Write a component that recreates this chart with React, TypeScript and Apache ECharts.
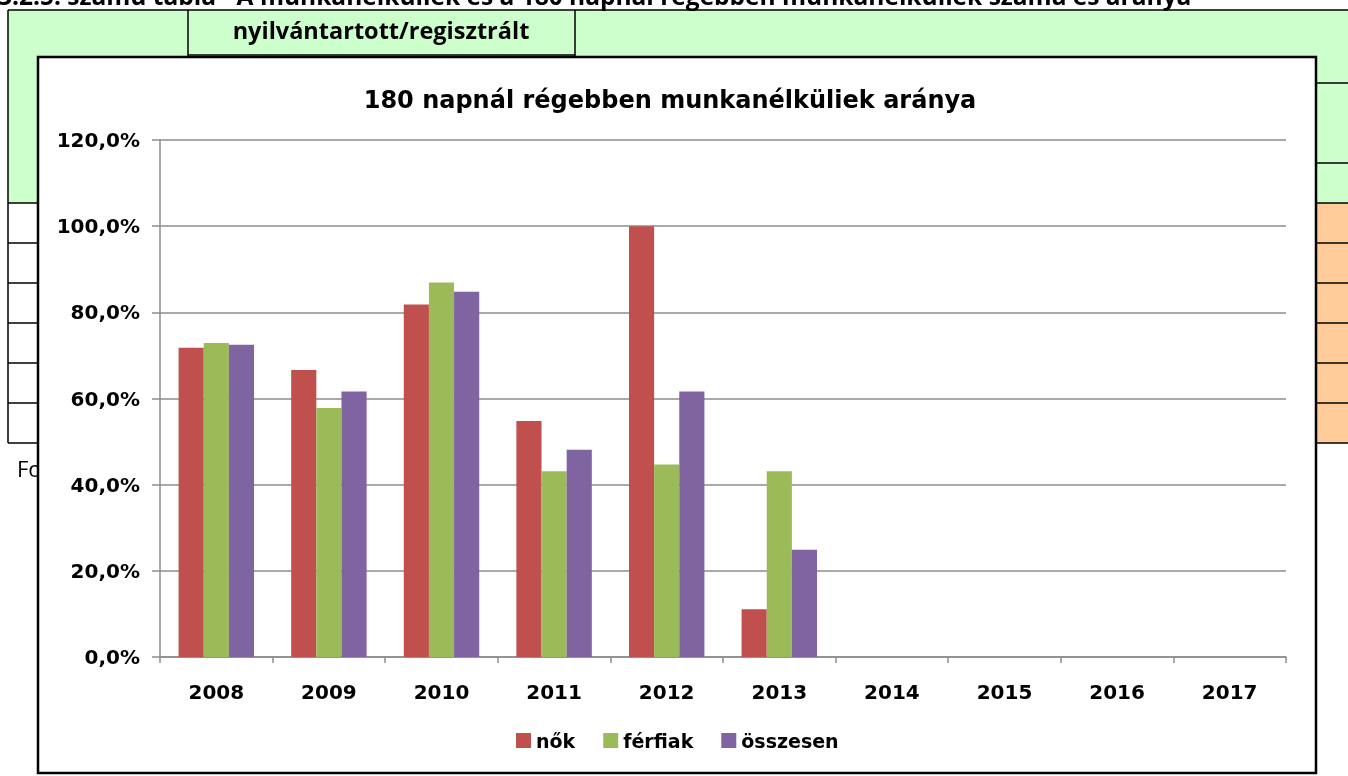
import React, { useEffect, useRef } from "react";
import * as echarts from "echarts";

const years = ["2008", "2009", "2010", "2011", "2012", "2013", "2014", "2015", "2016", "2017"];
const nok = [71.8, 66.6, 81.8, 54.8, 100.0, 11.1, null, null, null, null];
const ferfiak = [72.9, 57.8, 86.9, 43.1, 44.7, 43.1, null, null, null, null];
const osszesen = [72.5, 61.6, 84.8, 48.1, 61.6, 24.9, null, null, null, null];
const seriesNames = ["nők", "férfiak", "összesen"];
const seriesColors = ["#C0504D", "#9BBB59", "#8064A2"];
const chartTitle = "180 napnál régebben munkanélküliek aránya";
const sheetTitle = "3.2.5. számú tábla - A munkanélküliek és a 180 napnál régebben munkanélküliek száma és aránya";
const headerText = "nyilvántartott/regisztrált";
const sourceText = "Fo";
const rowLines = [203, 243, 283, 323, 363, 403, 443];

const FONT = "DejaVu Sans";

export default function App() {
  const ref = useRef<HTMLDivElement>(null);
  useEffect(() => {
    if (!ref.current) return;
    const chart = echarts.init(ref.current, null, { renderer: "svg" });
    const line = (x1: number, y1: number, x2: number, y2: number, w = 1.5) => ({
      type: "line",
      z: -10,
      shape: { x1, y1, x2, y2 },
      style: { stroke: "#000", lineWidth: w },
    });
    const bg: any[] = [
      { type: "rect", z: -20, shape: { x: 0, y: 0, width: 1348, height: 776 }, style: { fill: "#fff" } },
      { type: "rect", z: -15, shape: { x: 8, y: 10, width: 1340, height: 193 }, style: { fill: "#CCFFCC" } },
      { type: "rect", z: -15, shape: { x: 1316, y: 203, width: 32, height: 240 }, style: { fill: "#FFCC99" } },
      {
        type: "text", z: -10, x: -2, y: -5,
        style: { text: sheetTitle, font: "bold 24.5px 'Open Sans'", fill: "#000", verticalAlign: "middle" },
      },
      {
        type: "text", z: -10, x: 381, y: 30,
        style: { text: headerText, font: "bold 23.5px 'Open Sans'", fill: "#000", align: "center", verticalAlign: "middle" },
      },
      {
        type: "text", z: -10, x: 17, y: 468,
        style: { text: sourceText, font: "22px 'Open Sans'", fill: "#000", verticalAlign: "middle" },
      },
      line(8, 10, 1348, 10),
      line(8, 10, 8, 443),
      line(188, 10, 188, 57),
      line(575, 10, 575, 57),
      line(188, 55, 575, 55),
      line(1316, 83, 1348, 83),
      line(1316, 163, 1348, 163),
      ...rowLines.map((y) => line(8, y, 40, y)),
      ...rowLines.map((y) => line(1314, y, 1348, y)),
      {
        type: "rect", z: -5, shape: { x: 38, y: 57, width: 1278, height: 716 },
        style: { fill: "#fff", stroke: "#000", lineWidth: 2.5 },
      },
    ];
    const data = [nok, ferfiak, osszesen];
    chart.setOption({
      animation: false,
      graphic: { elements: bg },
      title: {
        text: chartTitle,
        left: 670,
        textAlign: "center",
        top: 88,
        padding: 0,
        textStyle: { fontFamily: FONT, fontWeight: "bold", fontSize: 24, color: "#000" },
      },
      legend: {
        data: seriesNames,
        left: 516,
        top: 731,
        itemWidth: 15,
        itemHeight: 15,
        itemGap: 28,
        icon: "rect",
        padding: 0,
        textStyle: { fontFamily: FONT, fontWeight: "bold", fontSize: 19, color: "#000" },
      },
      grid: { left: 160, right: 62, top: 140, bottom: 119, containLabel: false },
      xAxis: {
        type: "category",
        data: years,
        axisLine: { lineStyle: { color: "#8c8c8c", width: 1.5 } },
        axisTick: { show: true, length: 6, lineStyle: { color: "#8c8c8c", width: 1.5 } },
        axisLabel: { margin: 25, fontFamily: FONT, fontWeight: "bold", fontSize: 20, color: "#000" },
      },
      yAxis: {
        type: "value",
        min: 0,
        max: 120,
        interval: 20,
        axisLine: { show: true, lineStyle: { color: "#8c8c8c", width: 1.5 } },
        axisTick: { show: true, length: 8, lineStyle: { color: "#8c8c8c", width: 1.5 } },
        splitLine: { lineStyle: { color: "#8c8c8c", width: 1.5 } },
        axisLabel: {
          margin: 20,
          fontFamily: FONT,
          fontWeight: "bold",
          fontSize: 20,
          color: "#000",
          formatter: (v: number) => v.toFixed(1).replace(".", ",") + "%",
        },
      },
      series: seriesNames.map((name, i) => ({
        name,
        type: "bar",
        data: data[i],
        barGap: "0%",
        barCategoryGap: "33%",
        itemStyle: { color: seriesColors[i] },
      })),
    });
    return () => chart.dispose();
  }, []);
  return (
    <div
      ref={ref}
      style={{ position: "fixed", left: 0, top: 0, width: 1348, height: 776 }}
    />
  );
}
